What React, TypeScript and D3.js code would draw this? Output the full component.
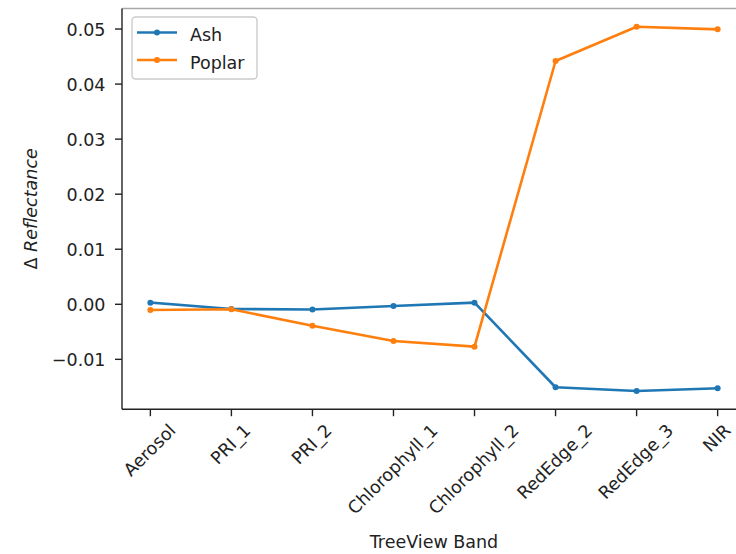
import React, { useEffect, useRef } from "react";
import * as d3 from "d3";

const bands = ["Aerosol", "PRI_1", "PRI_2", "Chlorophyll_1", "Chlorophyll_2", "RedEdge_2", "RedEdge_3", "NIR"];
const ashValues = [0.0003, -0.00085, -0.00095, -0.0003, 0.0003, -0.01507, -0.01575, -0.01526];
const poplarValues = [-0.00104, -0.0009, -0.0039, -0.00667, -0.0077, 0.04419, 0.05042, 0.04995];
const yTicks = [-0.01, 0.0, 0.01, 0.02, 0.03, 0.04, 0.05];
const seriesNames = ["Ash", "Poplar"];
const seriesColors = ["#1f77b4", "#ff7f0e"];

const W = 736;
const H = 554;
const FONT = "'DejaVu Sans', sans-serif";
const FS = 17.5;

export default function App() {
  const ref = useRef<SVGSVGElement | null>(null);

  useEffect(() => {
    const svg = d3.select(ref.current);
    svg.selectAll("*").remove();

    const left = 122, right = 746, top = 8.5, bottom = 409.2;
    const n = bands.length;
    const step = (right - left) / (n - 1 + 0.7);
    const x = d3.scalePoint<string>().domain(bands).range([left + 0.35 * step, right - 0.35 * step]);

    const all = [...ashValues, ...poplarValues];
    const mn = d3.min(all)!, mx = d3.max(all)!;
    const m = (mx - mn) * 0.05;
    const y = d3.scaleLinear().domain([mn - m, mx + m]).range([bottom, top]);

    const g = svg.append("g");

    // spines
    g.append("line").attr("x1", left).attr("x2", right).attr("y1", top).attr("y2", top)
      .attr("stroke", "#a8a8a8").attr("stroke-width", 1.4);
    g.append("line").attr("x1", left).attr("x2", left).attr("y1", top).attr("y2", bottom)
      .attr("stroke", "#222").attr("stroke-width", 1.4);
    g.append("line").attr("x1", left).attr("x2", right).attr("y1", bottom).attr("y2", bottom)
      .attr("stroke", "#222").attr("stroke-width", 1.4);

    // y ticks
    const fmt = (v: number) => {
      const s = Math.abs(v).toFixed(2);
      return (v < -1e-9 ? "\u2212" : "") + s;
    };
    yTicks.forEach((t) => {
      const yy = y(t);
      g.append("line").attr("x1", left - 7).attr("x2", left).attr("y1", yy).attr("y2", yy)
        .attr("stroke", "#222").attr("stroke-width", 1.4);
      g.append("text").attr("x", left - 16.5).attr("y", yy + 6.6)
        .attr("text-anchor", "end").attr("font-family", FONT).attr("font-size", FS)
        .attr("fill", "#222").text(fmt(t));
    });

    // x ticks
    const y0 = bottom + 7 + 6;
    const h = 0.968 * FS;
    const asc = 0.76 * FS, desc = 0.208 * FS;
    bands.forEach((b) => {
      const xx = x(b)!;
      g.append("line").attr("x1", xx).attr("x2", xx).attr("y1", bottom).attr("y2", bottom + 7)
        .attr("stroke", "#222").attr("stroke-width", 1.4);
      const t = g.append("text").attr("font-family", FONT).attr("font-size", FS)
        .attr("fill", "#222").attr("text-anchor", "middle").text(b);
      const w = (t.node() as SVGTextElement).getComputedTextLength();
      const cy = y0 + (w + h) / (2 * Math.SQRT2);
      const baselineOffset = (asc - desc) / 2;
      t.attr("x", 0).attr("y", baselineOffset)
        .attr("transform", `translate(${xx},${cy}) rotate(-45)`);
    });

    // axis labels
    g.append("text").attr("x", (left + right) / 2).attr("y", 548)
      .attr("text-anchor", "middle").attr("font-family", FONT).attr("font-size", FS)
      .attr("fill", "#222").text("TreeView Band");

    const yl = g.append("text").attr("text-anchor", "middle").attr("font-family", FONT)
      .attr("font-size", FS).attr("fill", "#222")
      .attr("transform", `translate(37,${(top + bottom) / 2}) rotate(-90)`);
    yl.append("tspan").text("\u0394 ");
    yl.append("tspan").attr("font-style", "italic").text("Reflectance");

    // lines
    const datasets = [ashValues, poplarValues];
    datasets.forEach((vals, si) => {
      const line = d3.line<number>().x((_, i) => x(bands[i])!).y((v) => y(v));
      g.append("path").attr("d", line(vals)!).attr("fill", "none")
        .attr("stroke", seriesColors[si]).attr("stroke-width", 2.6).attr("stroke-linejoin", "round")
        .attr("stroke-linecap", "square");
      vals.forEach((v, i) => {
        g.append("circle").attr("cx", x(bands[i])!).attr("cy", y(v)).attr("r", 3)
          .attr("fill", seriesColors[si]);
      });
    });

    // legend
    const lg = g.append("g");
    lg.append("rect").attr("x", 132).attr("y", 17).attr("width", 125).attr("height", 62)
      .attr("rx", 3.5).attr("fill", "white").attr("fill-opacity", 0.8)
      .attr("stroke", "#cccccc").attr("stroke-width", 1.4);
    seriesNames.forEach((nm, i) => {
      const ly = 32.5 + i * 27.5;
      lg.append("line").attr("x1", 137).attr("x2", 177).attr("y1", ly).attr("y2", ly)
        .attr("stroke", seriesColors[i]).attr("stroke-width", 2.6);
      lg.append("circle").attr("cx", 157).attr("cy", ly).attr("r", 3).attr("fill", seriesColors[i]);
      lg.append("text").attr("x", 190).attr("y", ly + 8.5).attr("font-family", FONT)
        .attr("font-size", FS).attr("fill", "#222").text(nm);
    });
  }, []);

  return (
    <svg ref={ref} width={W} height={H} style={{ position: "absolute", left: 0, top: 0, background: "white" }} />
  );
}
